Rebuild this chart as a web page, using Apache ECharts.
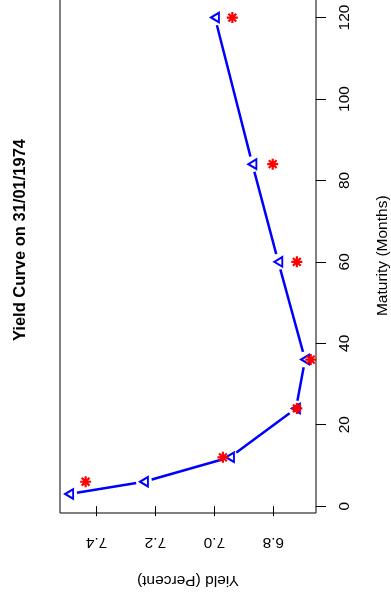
<!DOCTYPE html>
<html>
<head>
<meta charset="utf-8">
<script src="https://cdn.jsdelivr.net/npm/echarts@6/dist/echarts.min.js"></script>
<style>
  html, body { margin: 0; padding: 0; background: #fff; }
  #chart { width: 391px; height: 603px; }
</style>
</head>
<body>
<div id="chart"></div>
<script>
// Maturities (months) and observed yields (percent), joined by the blue line
const maturities = [3, 6, 12, 24, 36, 60, 84, 120];
const observedYields = [7.493, 7.239, 6.947, 6.723, 6.692, 6.783, 6.871, 6.998];

// Fitted yields shown as red asterisks
const fittedMaturities = [6, 12, 24, 36, 60, 84, 120];
const fittedYields = [7.437, 6.971, 6.720, 6.673, 6.720, 6.802, 6.939];

// Tick labels
const yieldTicks = [6.8, 7.0, 7.2, 7.4];
const maturityTicks = [0, 20, 40, 60, 80, 100, 120];

const titleText = 'Yield Curve on 31/01/1974';
const yieldName = 'Yield (Percent)';
const maturityName = 'Maturity (Months)';

const FONT = '"Liberation Sans", Arial, Helvetica, sans-serif';
const BLUE = '#0000FF';
const RED = '#FF0000';

const observedPts = maturities.map((m, i) => [observedYields[i], m]);
const fittedPts = fittedMaturities.map((m, i) => [fittedYields[i], m]);

const asterisk = 'path://M10 0L10 20M0 10L20 10M2.93 2.93L17.07 17.07M2.93 17.07L17.07 2.93';

const chart = echarts.init(document.getElementById('chart'), null, { renderer: 'canvas' });

chart.setOption({
  animation: false,
  backgroundColor: '#ffffff',
  textStyle: { fontFamily: FONT },
  grid: {
    left: 60, right: 75, top: -1.5, bottom: 90,
    outerBoundsMode: 'none',
    containLabel: false,
    show: true, borderColor: '#000', borderWidth: 1, backgroundColor: 'transparent'
  },
  graphic: [{
    type: 'text',
    x: 20, y: 240,
    rotation: Math.PI / 2,
    style: {
      text: titleText,
      font: 'bold 16.5px ' + FONT,
      fill: '#000',
      align: 'center',
      verticalAlign: 'middle'
    }
  }],
  xAxis: {
    type: 'value',
    inverse: true,
    min: 6.655, max: 7.524,
    position: 'bottom',
    splitLine: { show: false },
    axisLine: { show: false },
    axisTick: { show: true, length: 10, customValues: yieldTicks, lineStyle: { color: '#000', width: 1 } },
    axisLabel: {
      show: true, rotate: 180, margin: 21,
      customValues: yieldTicks,
      formatter: v => v.toFixed(1),
      fontSize: 15.5, color: '#000', fontFamily: FONT
    },
    name: yieldName,
    nameLocation: 'middle',
    nameRotate: 180,
    nameGap: 59,
    nameTextStyle: { fontSize: 15.5, color: '#000', fontFamily: FONT }
  },
  yAxis: {
    type: 'value',
    min: -1.68, max: 124.68,
    position: 'right',
    splitLine: { show: false },
    axisLine: { show: false },
    axisTick: { show: true, length: 10, customValues: maturityTicks, lineStyle: { color: '#000', width: 1 } },
    axisLabel: {
      show: true, rotate: 90, margin: 21,
      customValues: maturityTicks,
      fontSize: 15.5, color: '#000', fontFamily: FONT
    },
    name: maturityName,
    nameLocation: 'middle',
    nameRotate: 90,
    nameGap: 59,
    nameTextStyle: { fontSize: 15.5, color: '#000', fontFamily: FONT }
  },
  series: [
    {
      type: 'line',
      data: observedPts,
      showSymbol: false,
      lineStyle: { color: BLUE, width: 2.5 },
      z: 2
    },
    {
      // white discs leave the gap around each point on the line
      type: 'scatter',
      data: observedPts,
      symbol: 'circle',
      symbolSize: 16,
      itemStyle: { color: '#fff', opacity: 1 },
      z: 3
    },
    {
      type: 'scatter',
      data: observedPts,
      symbol: 'triangle',
      symbolRotate: 90,
      symbolSize: [9.5, 8],
      itemStyle: { color: 'rgba(0,0,0,0)', borderColor: BLUE, borderWidth: 2, opacity: 1 },
      z: 4
    },
    {
      type: 'scatter',
      data: fittedPts,
      symbol: asterisk,
      symbolSize: 11,
      itemStyle: { color: 'rgba(0,0,0,0)', borderColor: RED, borderWidth: 2.2, opacity: 1 },
      z: 5
    }
  ]
});
</script>
</body>
</html>
